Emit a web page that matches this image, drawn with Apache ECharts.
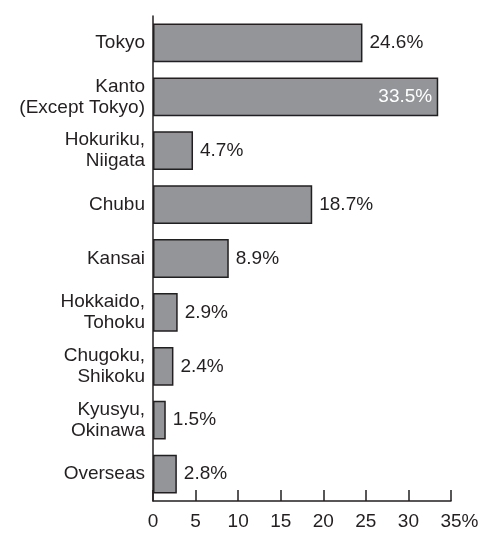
<!DOCTYPE html>
<html>
<head>
<meta charset="utf-8">
<script src="https://cdn.jsdelivr.net/npm/echarts@6/dist/echarts.min.js"></script>
<style>
  html, body { margin: 0; padding: 0; background: #fff; }
  #chart { width: 495px; height: 540px; }
</style>
</head>
<body>
<div id="chart"></div>
<script>
const categories = [
  'Tokyo',
  'Kanto\n(Except Tokyo)',
  'Hokuriku,\nNiigata',
  'Chubu',
  'Kansai',
  'Hokkaido,\nTohoku',
  'Chugoku,\nShikoku',
  'Kyusyu,\nOkinawa',
  'Overseas'
]
const shares = [24.6, 33.5, 4.7, 18.7, 8.9, 2.9, 2.4, 1.5, 2.8]
const insideIndex = 1 // Kanto label sits inside the bar
const axisMax = 35
const tickStep = 5

const font = 'Liberation Sans'
const ink = '#231f20'

const chart = echarts.init(document.getElementById('chart'))

const option = {
  animation: false,
  grid: {
    left: 153,
    right: 44,
    top: 16,
    bottom: 39
  },
  xAxis: {
    type: 'value',
    min: 0,
    max: axisMax,
    interval: tickStep,
    splitLine: { show: false },
    axisLine: { show: true, lineStyle: { color: ink, width: 1.5 } },
    axisTick: {
      show: true,
      inside: true,
      length: 11,
      lineStyle: { color: ink, width: 1.5 }
    },
    axisLabel: {
      margin: 11,
      color: ink,
      fontFamily: font,
      fontSize: 19,
      formatter: function (v) {
        return v === axisMax ? '{last|' + v + '%}' : String(v)
      },
      rich: {
        last: {
          fontFamily: font,
          fontSize: 19,
          color: ink,
          padding: [0, 0, 0, 17]
        }
      }
    }
  },
  yAxis: {
    type: 'category',
    data: categories,
    inverse: true,
    axisTick: { show: false },
    axisLine: { show: true, lineStyle: { color: ink, width: 1.5 } },
    axisLabel: {
      margin: 8,
      color: ink,
      fontFamily: font,
      fontSize: 19,
      lineHeight: 21
    }
  },
  series: [{
    type: 'bar',
    barCategoryGap: '28%',
    itemStyle: {
      color: '#939598',
      borderColor: ink,
      borderWidth: 1.5
    },
    label: {
      show: true,
      position: 'right',
      distance: 7,
      color: ink,
      fontFamily: font,
      fontSize: 19,
      formatter: '{c}%'
    },
    data: shares.map(function (v, i) {
      if (i !== insideIndex) return v
      return {
        value: v,
        label: { position: 'insideRight', color: '#fff', distance: 6 }
      }
    })
  }]
}

chart.setOption(option)
</script>
</body>
</html>
